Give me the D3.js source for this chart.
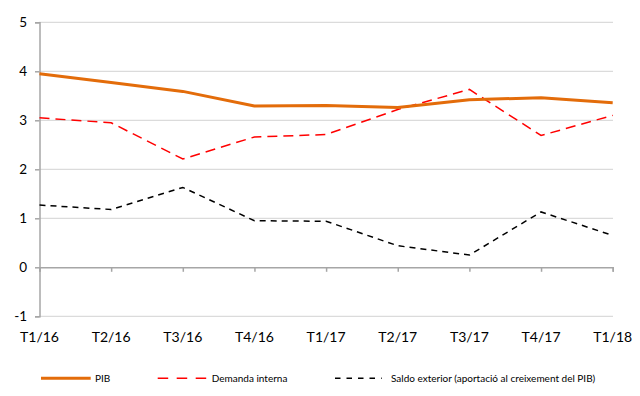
<!DOCTYPE html>
<html><head><meta charset="utf-8">
<script src="https://cdn.jsdelivr.net/npm/d3@7"></script>
<style>html,body{margin:0;padding:0;background:#fff;} svg{display:block;}</style>
</head><body>
<svg id="chart" width="640" height="396"></svg>
<script>
const categories = ["T1/16","T2/16","T3/16","T4/16","T1/17","T2/17","T3/17","T4/17","T1/18"];
const pib = [3.95, 3.77, 3.59, 3.29, 3.30, 3.26, 3.42, 3.46, 3.36];
const demandaInterna = [3.05, 2.95, 2.21, 2.66, 2.71, 3.22, 3.63, 2.69, 3.10];
const saldoExterior = [1.27, 1.18, 1.63, 0.95, 0.94, 0.44, 0.25, 1.13, 0.65];
const yTicks = [-1, 0, 1, 2, 3, 4, 5];
const seriesNames = ["PIB", "Demanda interna", "Saldo exterior (aportació al creixement del PIB)"];

const svg = d3.select("#chart");
const font = "Lato, 'Open Sans', sans-serif";

const x = d3.scalePoint().domain(categories).range([39.5, 612.7]);
const y = d3.scaleLinear().domain([-1, 5]).range([316.3, 22.3]);

// gridlines
svg.append("g").selectAll("line").data(yTicks.filter(d => d !== 0)).join("line")
  .attr("x1", 39.5).attr("x2", 612.7)
  .attr("y1", d => y(d)).attr("y2", d => y(d))
  .attr("stroke", "#a6a6a6").attr("stroke-width", 1).attr("stroke-dasharray", "1,1");

// y axis
const yAxis = svg.append("g").attr("transform", "translate(39.5,0)")
  .call(d3.axisLeft(y).tickValues(yTicks).tickSize(4.5).tickPadding(8).tickFormat(d => String(d)));
yAxis.select(".domain").attr("stroke", "#a6a6a6").attr("stroke-width", 1.5);
yAxis.selectAll(".tick line").attr("stroke", "#a6a6a6").attr("stroke-width", 1.5);
yAxis.selectAll("text").attr("font-family", font).attr("font-size", 13.5).attr("fill", "#000");

// x axis at zero
const xAxis = svg.append("g").attr("transform", `translate(0,${y(0)})`)
  .call(d3.axisBottom(x).tickSize(4.5).tickFormat(""));
xAxis.select(".domain").attr("stroke", "#a6a6a6").attr("stroke-width", 1.5);
xAxis.selectAll(".tick line").attr("stroke", "#a6a6a6").attr("stroke-width", 1.5);

// category labels at bottom
svg.append("g").selectAll("text").data(categories).join("text")
  .attr("x", d => x(d)).attr("y", 342)
  .attr("text-anchor", "middle").attr("font-family", font).attr("font-size", 14)
  .attr("fill", "#000").text(d => d);

const line = d3.line().x((d, i) => x(categories[i])).y(d => y(d));

svg.append("path").datum(saldoExterior).attr("d", line).attr("fill", "none")
  .attr("stroke", "#000").attr("stroke-width", 1.5).attr("stroke-dasharray", "6,5");
svg.append("path").datum(demandaInterna).attr("d", line).attr("fill", "none")
  .attr("stroke", "#ff0000").attr("stroke-width", 1.5).attr("stroke-dasharray", "10,6");
svg.append("path").datum(pib).attr("d", line).attr("fill", "none")
  .attr("stroke", "#e36c0a").attr("stroke-width", 3).attr("stroke-linejoin", "round");

// legend
const legY = 378.3;
const leg = [
  {x1: 41, x2: 90.7, tx: 95, color: "#e36c0a", w: 3, dash: null},
  {x1: 157.7, x2: 206.7, tx: 211.7, color: "#ff0000", w: 1.5, dash: "10.5,8.5"},
  {x1: 335, x2: 381.7, tx: 391, color: "#000", w: 1.5, dash: "5.5,6"}
];
leg.forEach((l, i) => {
  const ln = svg.append("line").attr("x1", l.x1).attr("x2", l.x2).attr("y1", legY).attr("y2", legY)
    .attr("stroke", l.color).attr("stroke-width", l.w);
  if (l.dash) ln.attr("stroke-dasharray", l.dash);
  svg.append("text").attr("x", l.tx).attr("y", legY + 3.5)
    .attr("font-family", font).attr("font-size", 10).attr("fill", "#000").text(seriesNames[i]);
});
</script>
</body></html>
